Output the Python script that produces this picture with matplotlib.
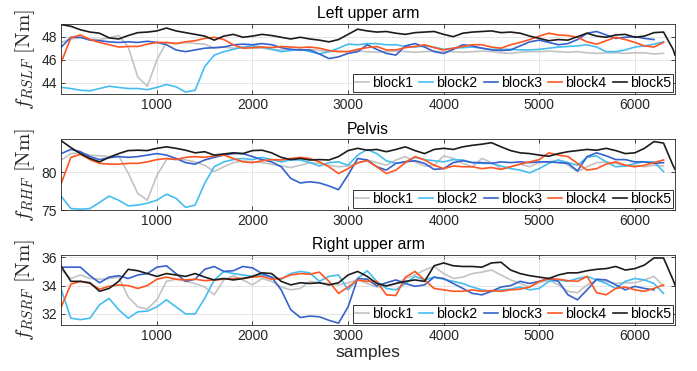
import numpy as np
import matplotlib
matplotlib.use("Agg")
import matplotlib.pyplot as plt

SAMPLES = list(range(0, 6401, 100)) + [6420]
XTICKS = [1000, 2000, 3000, 4000, 5000, 6000]
LABELS = ["block1", "block2", "block3", "block4", "block5"]
COLORS = ["#c3c3c3", "#45bdf0", "#3562cc", "#ff5522", "#1c1c1c"]

TITLES = ["Left upper arm", "Pelvis", "Right upper arm"]
YLABELS = [r"$f_{RSLF}\ [\mathrm{Nm}]$", r"$f_{RHF}\ [\mathrm{Nm}]$", r"$f_{RSRF}\ [\mathrm{Nm}]$"]
YLIMS = [(43.0, 49.1), (75.0, 84.4), (31.22, 36.16)]
YTICKS = [[44, 46, 48], [75, 80], [32, 34, 36]]

# ---- Left upper arm ----
lua_b1 = [47.5, 47.8, 47.9, 47.8, 47.75, 47.9, 48.1, 47.1, 44.5, 43.7, 46.0, 47.5, 47.4, 47.5, 47.4, 47.35,
          47.0, 47.1, 47.0, 47.05, 47.0, 47.0, 46.9, 46.85, 46.9, 46.8, 46.9, 46.8, 46.7, 46.75, 46.7, 46.75,
          46.7, 46.65, 46.7, 46.75, 46.7, 46.65, 46.7, 46.75, 46.7, 46.7, 46.65, 46.7, 46.75, 46.7, 46.6, 46.55,
          46.65, 46.7, 46.7, 46.75, 46.7, 46.65, 46.7, 46.6, 46.55, 46.6, 46.6, 46.55, 46.6, 46.6, 46.5, 46.55]
lua_b2 = [43.6, 43.5, 43.35, 43.3, 43.5, 43.7, 43.6, 43.5, 43.5, 43.4, 43.6, 43.85, 43.65, 43.2, 43.35, 45.4,
          46.4, 46.7, 46.9, 47.1, 47.2, 47.1, 46.9, 46.7, 46.8, 46.9, 46.7, 46.5, 46.7, 47.0, 47.35, 47.3,
          47.4, 47.4, 47.3, 47.3, 47.15, 47.1, 47.2, 47.1, 46.9, 47.0, 47.05, 47.1, 47.0, 46.9, 46.9, 46.9,
          46.85, 46.85, 46.9, 47.0, 47.1, 47.15, 47.2, 47.3, 47.1, 46.7, 46.7, 46.85, 47.1, 47.2, 47.35, 47.55]
lua_b3 = [47.1, 47.95, 47.95, 47.7, 47.65, 47.55, 47.5, 47.55, 47.5, 47.6, 47.5, 47.3, 46.85, 46.7, 46.85, 47.0,
          47.05, 47.1, 47.3, 47.35, 47.3, 47.4, 47.3, 47.05, 46.9, 46.85, 46.85, 46.5, 46.1, 46.25, 46.55, 46.7,
          47.3, 46.9, 46.55, 46.4, 47.2, 47.4, 47.1, 46.7, 46.55, 46.9, 47.3, 47.2, 47.0, 46.85, 46.8, 46.85,
          47.2, 47.55, 47.7, 47.5, 47.3, 47.4, 47.75, 48.3, 48.45, 48.15, 47.85, 47.95, 48.0, 47.85, 47.75]
lua_b4 = [45.8, 47.9, 48.15, 47.75, 47.5, 47.3, 47.1, 47.15, 47.15, 47.35, 47.5, 47.5, 47.4, 47.55, 47.65, 47.85,
          47.95, 47.75, 47.3, 47.0, 47.05, 47.1, 47.05, 47.15, 47.1, 47.05, 47.1, 47.0, 46.8, 46.7, 46.7, 46.9,
          47.05, 47.15, 46.85, 46.85, 47.05, 47.15, 47.3, 47.05, 46.85, 47.0, 47.15, 47.3, 47.3, 47.1, 47.0, 47.3,
          47.5, 47.75, 48.05, 48.3, 48.15, 48.1, 47.95, 47.55, 47.35, 47.65, 47.95, 47.75, 47.5, 47.2, 47.1, 47.5]
lua_b5 = [49.05, 48.9, 48.6, 48.4, 48.3, 47.9, 47.8, 48.1, 48.35, 48.4, 48.5, 48.75, 48.5, 48.35, 48.2, 48.05,
          47.7, 48.05, 48.2, 47.95, 48.05, 48.2, 48.1, 47.95, 47.8, 47.95, 47.8, 47.7, 47.55, 47.75, 48.2, 48.65,
          48.5, 48.4, 48.45, 48.3, 48.2, 48.35, 48.4, 48.45, 48.2, 48.0, 48.3, 48.4, 48.45, 48.5, 48.35, 48.4,
          48.3, 48.05, 47.85, 47.65, 47.75, 47.7, 48.0, 48.3, 48.05, 47.95, 48.15, 48.2, 47.95, 48.05, 48.35, 48.4,
          46.9, 46.4]

# ---- Pelvis ----
pel_b1 = [81.65, 82.5, 82.6, 82.3, 82.2, 82.1, 82.2, 79.9, 77.2, 76.3, 79.6, 81.7, 81.85, 81.65, 81.4, 80.95,
          80.1, 80.75, 81.3, 81.55, 81.4, 81.3, 81.1, 80.85, 80.65, 80.95, 81.3, 81.2, 80.95, 80.75, 80.85, 81.2,
          81.65, 81.3, 80.95, 81.65, 82.1, 81.4, 80.85, 80.95, 82.2, 81.85, 81.2, 80.75, 81.85, 81.3, 80.5, 80.75,
          81.1, 80.75, 81.3, 81.4, 81.65, 80.95, 80.1, 80.75, 81.3, 81.4, 81.2, 80.85, 80.95, 80.75, 80.95, 80.85]
pel_b2 = [76.8, 75.2, 75.1, 75.2, 76.0, 76.85, 76.3, 75.55, 75.65, 75.9, 76.3, 77.1, 76.55, 75.35, 75.65, 78.55,
          80.75, 81.4, 81.7, 81.85, 81.7, 82.0, 81.7, 81.4, 81.65, 81.65, 81.3, 80.85, 81.3, 81.4, 80.95, 82.3,
          83.05, 82.5, 81.55, 81.2, 81.4, 82.0, 81.7, 81.55, 81.4, 81.7, 81.65, 81.3, 81.2, 81.2, 80.85, 80.5,
          80.3, 79.95, 80.5, 81.2, 81.65, 81.3, 80.95, 82.0, 82.2, 81.4, 80.75, 80.85, 81.2, 81.4, 81.4, 80.1]
pel_b3 = [82.5, 83.05, 82.75, 82.1, 81.7, 81.95, 82.1, 82.0, 82.1, 82.3, 82.5, 82.3, 81.85, 81.3, 81.1, 81.65,
          82.0, 82.3, 82.5, 82.5, 82.1, 81.7, 81.4, 80.75, 79.2, 78.6, 78.75, 78.6, 78.2, 77.7, 79.65, 81.85,
          81.65, 80.75, 80.3, 81.2, 81.4, 81.55, 81.2, 80.4, 80.5, 81.3, 81.55, 81.3, 81.3, 81.2, 81.4, 81.3,
          81.4, 81.3, 81.4, 81.4, 81.3, 81.2, 80.2, 82.1, 82.6, 82.2, 81.7, 81.7, 81.4, 81.4, 81.2, 81.3]
pel_b4 = [78.55, 82.0, 82.4, 81.7, 81.2, 81.1, 81.1, 81.2, 81.2, 81.4, 81.7, 81.85, 81.7, 82.0, 82.1, 82.0,
          82.2, 82.3, 81.85, 81.4, 81.3, 81.55, 81.7, 81.65, 81.85, 82.0, 81.85, 81.4, 80.75, 79.85, 80.5, 81.3,
          81.55, 80.75, 79.85, 80.3, 81.3, 82.1, 81.65, 80.95, 80.5, 80.85, 80.75, 80.75, 80.5, 80.65, 80.4, 80.75,
          81.1, 81.4, 81.7, 82.6, 82.3, 82.1, 81.2, 80.3, 80.5, 81.1, 81.4, 80.95, 80.75, 80.95, 81.3, 81.65]
pel_b5 = [84.2, 83.3, 82.5, 81.85, 81.4, 82.0, 82.5, 82.9, 82.95, 82.9, 83.2, 83.4, 83.2, 82.95, 82.6, 82.75,
          82.3, 82.45, 82.6, 82.5, 82.9, 82.95, 82.6, 82.0, 81.7, 81.85, 81.65, 81.7, 81.65, 82.1, 82.9, 83.2,
          82.95, 83.05, 82.75, 83.05, 83.4, 82.9, 82.5, 83.05, 83.2, 83.05, 83.4, 83.6, 83.75, 83.95, 83.4, 82.9,
          82.6, 82.5, 82.3, 82.15, 82.5, 82.75, 82.9, 83.05, 82.95, 83.2, 82.9, 82.5, 82.6, 83.2, 84.1, 83.9,
          80.9, 80.4]

# ---- Right upper arm ----
rua_b1 = [35.1, 34.5, 34.75, 34.5, 34.45, 34.5, 34.6, 33.2, 32.5, 32.35, 33.0, 34.3, 34.45, 34.3, 34.15, 33.9,
          33.35, 34.4, 34.7, 34.4, 34.05, 34.5, 34.3, 33.9, 33.7, 33.8, 34.3, 34.2, 34.15, 34.05, 34.2, 34.4,
          34.15, 33.9, 33.95, 34.15, 34.5, 34.75, 35.1, 35.35, 34.85, 34.5, 34.6, 34.85, 34.95, 35.1, 34.75, 34.4,
          34.15, 33.9, 34.2, 34.4, 34.05, 33.6, 33.5, 34.05, 34.4, 34.3, 34.15, 34.2, 34.2, 34.4, 34.65, 33.95]
rua_b2 = [33.7, 31.7, 31.6, 31.7, 32.65, 33.1, 32.3, 31.7, 32.15, 32.2, 32.5, 33.0, 32.5, 32.0, 32.0, 33.1,
          34.4, 35.0, 34.85, 34.75, 34.65, 34.75, 34.6, 34.45, 34.85, 35.0, 34.9, 34.3, 34.65, 34.75, 33.7, 34.5,
          35.05, 34.3, 33.8, 33.7, 34.15, 34.65, 34.4, 34.6, 34.45, 34.3, 34.15, 33.9, 33.7, 33.6, 33.7, 33.75,
          33.9, 33.7, 33.8, 34.3, 34.4, 34.3, 34.5, 34.65, 34.4, 34.15, 33.8, 34.3, 34.5, 34.4, 34.15, 33.45]
rua_b3 = [35.3, 35.3, 35.3, 34.7, 34.2, 34.6, 34.7, 34.5, 34.75, 34.85, 35.3, 35.4, 34.85, 34.3, 34.45, 35.15,
          35.35, 35.0, 35.05, 35.35, 35.25, 34.85, 34.6, 33.7, 32.3, 31.75, 31.85, 31.8, 31.55, 31.35, 32.5, 34.5,
          34.45, 33.98, 34.2, 34.4, 34.15, 33.95, 34.05, 34.6, 34.5, 34.15, 33.8, 33.45, 33.35, 33.6, 33.9, 34.0,
          34.3, 34.15, 34.3, 34.5, 34.3, 33.35, 33.0, 33.7, 34.45, 34.4, 34.05, 33.7, 33.95, 33.8, 33.7]
rua_b4 = [32.5, 34.1, 34.3, 34.15, 33.75, 33.95, 34.05, 34.0, 33.8, 34.0, 34.45, 34.6, 34.45, 34.4, 34.45, 34.35,
          34.4, 34.45, 34.5, 34.5, 34.6, 34.65, 34.45, 34.5, 34.75, 34.85, 34.8, 34.95, 34.3, 33.45, 33.9, 34.4,
          34.3, 34.3, 33.35, 33.3, 34.6, 35.0, 34.4, 33.8, 33.7, 33.6, 33.6, 33.7, 33.6, 33.65, 33.6, 33.7,
          33.75, 33.9, 34.3, 34.5, 34.45, 34.35, 34.3, 34.65, 33.5, 33.35, 33.8, 33.9, 33.7, 33.6, 33.8, 34.05]
rua_b5 = [35.35, 34.3, 34.3, 34.2, 33.6, 33.8, 34.3, 35.15, 35.05, 34.85, 34.65, 34.85, 34.75, 34.65, 34.85, 34.6,
          34.4, 34.5, 34.4, 34.5, 34.65, 34.9, 34.85, 34.3, 34.05, 34.2, 34.15, 34.2, 34.05, 34.2, 34.75, 35.0,
          34.65, 34.15, 33.98, 34.15, 34.3, 34.4, 34.3, 35.4, 35.6, 35.4, 35.35, 35.35, 35.3, 35.6, 35.65, 35.1,
          34.85, 34.7, 34.6, 34.5, 34.75, 34.9, 34.9, 35.05, 35.15, 35.2, 35.35, 35.1, 35.2, 35.45, 35.95, 35.95,
          34.4, 34.05]

PANELS = [[lua_b1, lua_b2, lua_b3, lua_b4, lua_b5],
          [pel_b1, pel_b2, pel_b3, pel_b4, pel_b5],
          [rua_b1, rua_b2, rua_b3, rua_b4, rua_b5]]

plt.rcParams["font.family"] = ["Liberation Sans", "DejaVu Sans"]
plt.rcParams["mathtext.fontset"] = "cm"

W, H = 697, 371
fig = plt.figure(figsize=(W / 100, H / 100), dpi=100)
left = 61.4 / W
width = (675 - 61.4) / W
boxes = [(24, 94.3), (139.3, 210), (255, 325)]
TXT = "#262626"

for i, (top, bot) in enumerate(boxes):
    ax = fig.add_axes([left, 1 - bot / H, width, (bot - top) / H])
    handles = []
    for series, lab, col in zip(PANELS[i], LABELS, COLORS):
        h, = ax.plot(SAMPLES[:len(series)], series, color=col, lw=1.2, label=lab)
        handles.append(h)
    ax.set_xlim(1, 6420)
    ax.set_ylim(*YLIMS[i])
    ax.set_xticks(XTICKS)
    ax.set_yticks(YTICKS[i])
    ax.grid(True, color="#e2e2e2", lw=0.6)
    ax.set_axisbelow(True)
    ax.tick_params(direction="in", length=3, width=0.6, colors=TXT, labelsize=10,
                   top=True, right=True, pad=3)
    for sp in ax.spines.values():
        sp.set_color(TXT)
        sp.set_linewidth(0.6)
    ax.set_title(TITLES[i], fontsize=11.3, color="black", pad=4)
    ax.set_ylabel(YLABELS[i], fontsize=15, color=TXT, va="center")
    ax.yaxis.set_label_coords(-0.059, 0.5)
    leg = ax.legend(handles=handles, ncol=5, loc="lower right", fontsize=10.2,
                    handlelength=1.0, handletextpad=0.2, columnspacing=0.45,
                    borderaxespad=0.15, borderpad=0.15, fancybox=False, framealpha=1,
                    edgecolor="#333333")
    leg.get_frame().set_linewidth(0.7)
    if i == 2:
        ax.set_xlabel("samples", fontsize=12.5, color=TXT, labelpad=1)

fig.savefig("out.png", dpi=100)
